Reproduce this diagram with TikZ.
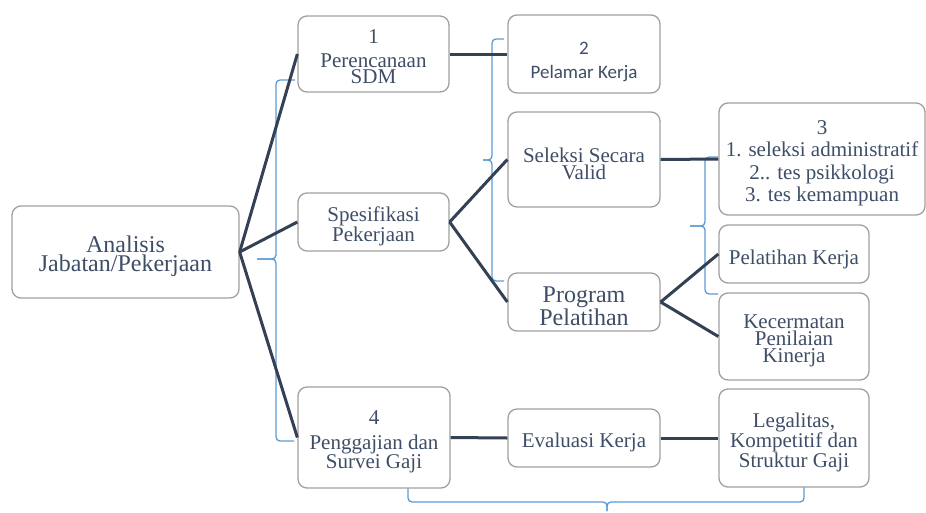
\documentclass[tikz,border=0pt]{standalone}
\usepackage{fontspec}
\setmainfont{Liberation Serif}
\newfontfamily\timesfont{Liberation Serif}
\newfontfamily\calibrifont{Carlito}
\definecolor{boxgray}{RGB}{160,160,160}
\definecolor{linkdark}{RGB}{52,64,84}
\definecolor{braceblue}{RGB}{91,155,213}
\definecolor{textblue}{RGB}{62,78,102}
% strut on the first line, pushes the text a little down in its box
\newcommand{\topgap}[1]{\rule{0pt}{#1}}
\tikzset{
    box/.style={draw=boxgray, line width=1.3pt, rounded corners=9pt, fill=white,
        align=center, text=textblue, inner sep=1pt},
    link/.style={draw=linkdark, line width=3pt},
    brace/.style={draw=braceblue, line width=1.3pt, rounded corners=4pt}
}

\begin{document}
\begin{tikzpicture}[x=1pt,y=-1pt]
    \useasboundingbox (0,0) rectangle (926,512);

    % Blue brackets behind the boxes
    \draw [brace] (295,80) -- (276,80) -- (276,259) -- (257,259);
    \draw [brace] (257,259) -- (276,259) -- (276,441) -- (294,441);
    \draw [brace] (504,39) -- (492,39) -- (492,160) -- (483,160);
    \draw [brace] (483,160) -- (492,160) -- (492,281) -- (504,281);
    \draw [brace] (718,157) -- (705,157) -- (705,226) -- (690,226);
    \draw [brace] (690,226) -- (705,226) -- (705,294) -- (718,294);
    \draw [brace] (408,488) -- (408,502) -- (607,502) -- (607,511);
    \draw [brace] (607,511) -- (607,502) -- (804,502) -- (804,487);

    % First column
    \node [box, minimum width=227pt, minimum height=92pt, font=\timesfont\fontsize{24}{19}\selectfont] (ana) at (125.5,252) {\topgap{26pt}Analisis\\Jabatan/Pekerjaan};

    % Second column
    \node [box, minimum width=151pt, minimum height=76pt, font=\timesfont\fontsize{21}{16}\selectfont] (rencana) at (373.5,54) {\topgap{20pt}1\\[8pt]Perencanaan\\SDM};
    \node [box, minimum width=151pt, minimum height=58pt, font=\timesfont\fontsize{21}{17}\selectfont] (spesifikasi) at (373.5,222) {\topgap{23pt}Spesifikasi\\Pekerjaan};
    \node [box, minimum width=152pt, minimum height=101pt, font=\timesfont\fontsize{21}{16}\selectfont] (gaji) at (374,437.5) {\topgap{22pt}4\\[9pt]Penggajian dan\\Survei Gaji};

    % Third column
    \node [box, minimum width=152pt, minimum height=78pt, font=\calibrifont\fontsize{19}{24}\selectfont] (pelamar) at (584,54) {\topgap{28pt}2\\Pelamar Kerja};
    \node [box, minimum width=152pt, minimum height=95pt, font=\timesfont\fontsize{21}{17}\selectfont] (seleksi) at (584,159.5) {\topgap{23pt}Seleksi Secara\\Valid};
    \node [box, minimum width=152pt, minimum height=58pt, font=\timesfont\fontsize{24}{19}\selectfont] (program) at (584,302) {\topgap{24pt}Program\\Pelatihan};
    \node [box, minimum width=152pt, minimum height=58pt, font=\timesfont\fontsize{21}{17}\selectfont] (evaluasi) at (584,438) {\topgap{24pt}Evaluasi Kerja};

    % Fourth column
    \node [box, minimum width=206pt, minimum height=112pt, font=\timesfont\fontsize{21}{22.5}\selectfont] (tes) at (822,159) {\topgap{22pt}3\\1. seleksi administratif\\2.. tes psikkologi\\3. tes kemampuan};
    \node [box, minimum width=150pt, minimum height=58pt, font=\timesfont\fontsize{21}{17}\selectfont] (latih) at (794,254) {\topgap{26pt}Pelatihan Kerja};
    \node [box, minimum width=150pt, minimum height=87pt, font=\timesfont\fontsize{21}{17}\selectfont] (kinerja) at (794,336.5) {\topgap{23pt}Kecermatan\\Penilaian\\Kinerja};
    \node [box, minimum width=150pt, minimum height=98pt, font=\timesfont\fontsize{21}{17}\selectfont] (legal) at (794,438) {\topgap{24pt}Legalitas,\\Kompetitif dan\\Struktur Gaji};

    % Dark connectors
    \draw [link] (ana.east) -- (rencana.west);
    \draw [link] (ana.east) -- (spesifikasi.west);
    \draw [link] (ana.east) -- (gaji.west);
    \draw [link] (rencana.east) -- (pelamar.west);
    \draw [link] (spesifikasi.east) -- (seleksi.west);
    \draw [link] (spesifikasi.east) -- (program.west);
    \draw [link] (seleksi.east) -- (tes.west);
    \draw [link] (program.east) -- (latih.west);
    \draw [link] (program.east) -- (kinerja.west);
    \draw [link] (gaji.east) -- (evaluasi.west);
    \draw [link] (evaluasi.east) -- (legal.west);

\end{tikzpicture}
\end{document}
